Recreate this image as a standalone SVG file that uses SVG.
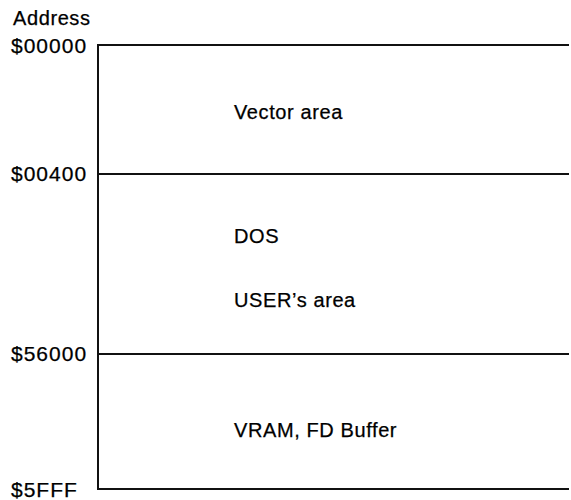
<svg xmlns="http://www.w3.org/2000/svg" width="571" height="500" viewBox="0 0 571 500">
<style>
text{font-family:"Liberation Sans",Arial,sans-serif;font-size:20px;fill:#000;stroke:#000;stroke-width:0.25;letter-spacing:0.6px}
.addr{font-size:21px;letter-spacing:1px}
.ln{stroke:#111;stroke-width:2;fill:none}
</style>
<rect width="571" height="500" fill="#fff"/>
<g id="connectors">
<line class="ln" x1="98" y1="44" x2="98" y2="490"/>
<line class="ln" x1="97" y1="45" x2="569" y2="45"/>
<line class="ln" x1="97" y1="174" x2="569" y2="174"/>
<line class="ln" x1="97" y1="354" x2="569" y2="354"/>
<line class="ln" x1="97" y1="489" x2="569" y2="489"/>
</g>
<g id="axis-label"><text x="13" y="25">Address</text></g>
<g id="addr-00000"><text class="addr" x="11" y="53">$00000</text></g>
<g id="addr-00400"><text class="addr" x="11" y="181">$00400</text></g>
<g id="addr-56000"><text class="addr" x="11" y="361">$56000</text></g>
<g id="addr-5FFF"><text class="addr" x="11" y="497">$5FFF</text></g>
<g id="vector-area"><text x="234" y="119">Vector area</text></g>
<g id="dos"><text x="234" y="243">DOS</text></g>
<g id="user-area"><text x="234" y="307">USER’s area</text></g>
<g id="vram"><text x="234" y="437">VRAM, FD Buffer</text></g>
</svg>
